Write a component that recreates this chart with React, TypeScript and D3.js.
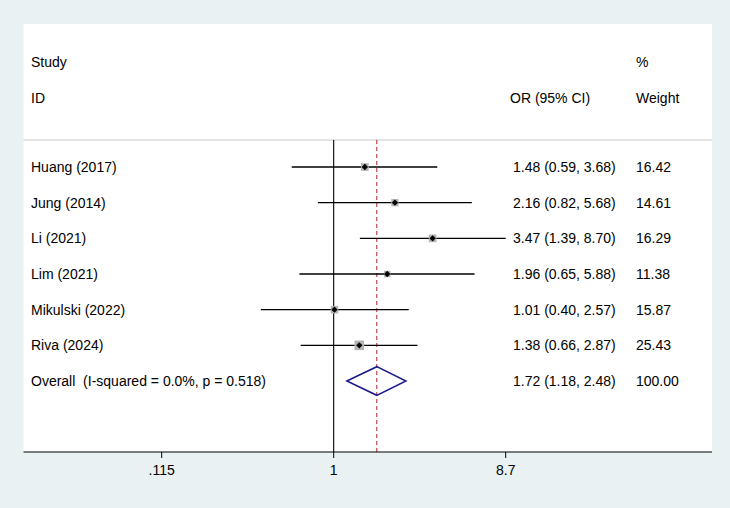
import React from "react";
import * as d3 from "d3";

// Study-level estimates (odds ratios with 95% CI) and weights
const studies = ["Huang (2017)", "Jung (2014)", "Li (2021)", "Lim (2021)", "Mikulski (2022)", "Riva (2024)"];
const oddsRatio = [1.48, 2.16, 3.47, 1.96, 1.01, 1.38];
const ciLower = [0.59, 0.82, 1.39, 0.65, 0.40, 0.66];
const ciUpper = [3.68, 5.68, 8.70, 5.88, 2.57, 2.87];
const weights = [16.42, 14.61, 16.29, 11.38, 15.87, 25.43];

// Pooled estimate
const overallLabel = "Overall  (I-squared = 0.0%, p = 0.518)";
const overallOR = 1.72;
const overallLower = 1.18;
const overallUpper = 2.48;
const overallWeight = 100.0;

// Axis ticks
const tickValues = [0.115, 1, 8.7];
const tickLabels = [".115", "1", "8.7"];

const W = 730;
const H = 508;
const FONT = "'Liberation Sans', Arial, Helvetica, sans-serif";

export default function App() {
  const panel = { x0: 23.5, x1: 712, y0: 24, y1: 452 };

  const x = d3.scaleLog().domain([0.115, 8.7]).range([161.7, 505.7]);
  const rowIdx = d3.range(studies.length + 1);
  const y = d3.scalePoint<number>().domain(rowIdx).range([167, 381]);

  const boxSide = (w: number) => 1.9 * Math.sqrt(w);
  const fmt = (v: number) => d3.format(".2f")(v);

  const labelX = 31;
  const ciTextX = 513;
  const wtX = 636;
  const headerY1 = 62;
  const headerY2 = 98;
  const sepY = 140;

  const diamondPts = [
    [x(overallLower), y(6)!],
    [x(overallOR), y(6)! - 14.3],
    [x(overallUpper), y(6)!],
    [x(overallOR), y(6)! + 14.3],
  ];

  return (
    <div style={{ position: "fixed", left: 0, top: 0 }}>
      <svg width={W} height={H} style={{ display: "block" }} fontFamily={FONT}>
        <rect x={0} y={0} width={W} height={H} fill="#EAF1F3" />
        <rect
          x={panel.x0}
          y={panel.y0}
          width={panel.x1 - panel.x0}
          height={panel.y1 - panel.y0}
          fill="#FFFFFF"
        />

        {/* header */}
        <g fontSize={14} fill="#000">
          <text x={labelX} y={headerY1} dominantBaseline="central">Study</text>
          <text x={labelX} y={headerY2} dominantBaseline="central">ID</text>
          <text x={ciTextX - 3} y={headerY2} dominantBaseline="central">OR (95% CI)</text>
          <text x={wtX} y={headerY1} dominantBaseline="central">%</text>
          <text x={wtX} y={headerY2} dominantBaseline="central">Weight</text>
        </g>

        <line x1={panel.x0} x2={panel.x1} y1={sepY} y2={sepY} stroke="#C8C8C8" strokeWidth={1} />

        {/* reference line at OR = 1 */}
        <line x1={x(1)} x2={x(1)} y1={sepY} y2={panel.y1} stroke="#000" strokeWidth={1.1} />
        {/* pooled estimate line */}
        <line
          x1={x(overallOR)}
          x2={x(overallOR)}
          y1={sepY}
          y2={panel.y1}
          stroke="#B0202A"
          strokeWidth={1}
          strokeDasharray="4,3"
        />

        {/* studies */}
        {studies.map((s, i) => {
          const cy = y(i)!;
          const cx = x(oddsRatio[i]);
          const side = boxSide(weights[i]);
          return (
            <g key={s}>
              <line x1={x(ciLower[i])} x2={x(ciUpper[i])} y1={cy} y2={cy} stroke="#000" strokeWidth={1.4} />
              <rect x={cx - side / 2} y={cy - side / 2} width={side} height={side} fill="#B4B4B4" />
              <path
                d={`M${cx - 3.2},${cy} L${cx},${cy - 3.2} L${cx + 3.2},${cy} L${cx},${cy + 3.2} Z`}
                fill="#000"
              />
              <text x={labelX} y={cy} fontSize={14} dominantBaseline="central">{s}</text>
              <text x={ciTextX} y={cy} fontSize={14} dominantBaseline="central">
                {`${fmt(oddsRatio[i])} (${fmt(ciLower[i])}, ${fmt(ciUpper[i])})`}
              </text>
              <text x={wtX} y={cy} fontSize={14} dominantBaseline="central">{fmt(weights[i])}</text>
            </g>
          );
        })}

        {/* overall */}
        <polygon
          points={diamondPts.map((p) => p.join(",")).join(" ")}
          fill="none"
          stroke="#1A1A8C"
          strokeWidth={1.5}
        />
        <text x={labelX} y={y(6)!} fontSize={14} dominantBaseline="central" style={{ whiteSpace: "pre" }}>
          {overallLabel}
        </text>
        <text x={ciTextX} y={y(6)!} fontSize={14} dominantBaseline="central">
          {`${fmt(overallOR)} (${fmt(overallLower)}, ${fmt(overallUpper)})`}
        </text>
        <text x={wtX} y={y(6)!} fontSize={14} dominantBaseline="central">{fmt(overallWeight)}</text>

        {/* x axis */}
        <line x1={panel.x0} x2={panel.x1} y1={panel.y1} y2={panel.y1} stroke="#000" strokeWidth={1.2} />
        {tickValues.map((t, i) => (
          <g key={t}>
            <line x1={x(t)} x2={x(t)} y1={panel.y1} y2={panel.y1 + 6} stroke="#000" strokeWidth={1} />
            <text x={x(t)} y={470} fontSize={14} textAnchor="middle" dominantBaseline="central">
              {tickLabels[i]}
            </text>
          </g>
        ))}
      </svg>
    </div>
  );
}
